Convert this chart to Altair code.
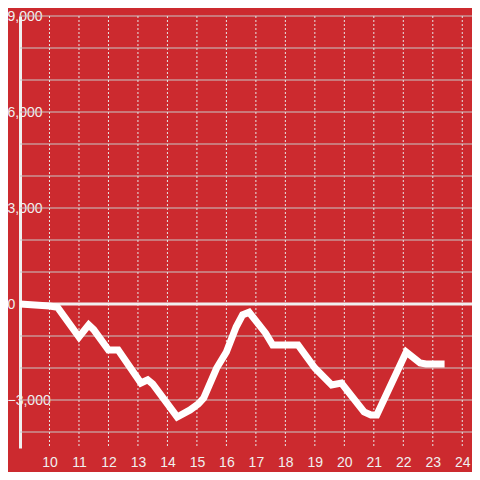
import altair as alt
import pandas as pd

# Data (hour of day, value)
hours = [9.0, 10.0, 10.27, 11.0, 11.33, 11.5, 12.0, 12.33, 13.1, 13.33, 13.5,
         14.33, 14.77, 15.05, 15.23, 15.67, 16.0, 16.33, 16.55, 16.77, 17.33,
         17.57, 18.43, 19.0, 19.57, 19.9, 20.67, 20.9, 21.1, 22.1, 22.57,
         22.77, 23.4]
values = [0, -60, -100, -1030, -650, -800, -1440, -1440, -2470, -2370, -2500,
          -3530, -3310, -3120, -2940, -2000, -1500, -720, -340, -260, -910,
          -1280, -1280, -2000, -2530, -2470, -3375, -3470, -3470, -1500, -1840,
          -1875, -1875]

x_ticks = list(range(10, 25))
y_labels = [-3000, 0, 3000, 6000, 9000]
y_grid = list(range(-4000, 10000, 1000))

BG = "#CC2A2F"
FONT = "Liberation Sans"

df = pd.DataFrame({"hour": hours, "value": values})

xscale = alt.Scale(domain=[9, 24.33], nice=False, zero=False)
yscale = alt.Scale(domain=[-4500, 9000], nice=False, zero=False)

hgrid = alt.Chart(pd.DataFrame({"g": y_grid})).mark_rule(
    color="#C8C8C8", strokeWidth=1
).encode(y=alt.Y("g:Q", scale=yscale, axis=None))

vgrid = alt.Chart(pd.DataFrame({"t": x_ticks})).mark_rule(
    color="#E6E6E6", strokeWidth=1, strokeDash=[2, 2]
).encode(x=alt.X("t:Q", scale=xscale, axis=None))

zero = alt.Chart(pd.DataFrame({"v": [0]})).mark_rule(
    color="#F0F0F0", strokeWidth=3
).encode(y=alt.Y("v:Q", scale=yscale, axis=None))

line = alt.Chart(df).mark_line(
    color="white", strokeWidth=7, strokeCap="butt", strokeJoin="miter", clip=True
).encode(
    x=alt.X("hour:Q", scale=xscale,
            axis=alt.Axis(values=x_ticks, title=None, domain=False, ticks=False,
                          grid=False, labelPadding=7, labelFontSize=14,
                          labelColor="#F0F0F0", labelFont=FONT,
                          labelFlush=False, labelOverlap=False)),
    y=alt.Y("value:Q", scale=yscale,
            axis=alt.Axis(values=y_labels, title=None, domain=True,
                          domainColor="#F0F0F0", domainWidth=3, ticks=False,
                          grid=False, labelAlign="left", labelBaseline="middle",
                          labelPadding=13, labelFontSize=14,
                          labelColor="#F0F0F0", labelFont=FONT,
                          labelFlush=False, labelOverlap=False)),
)

chart = alt.layer(hgrid, vgrid, zero, line).resolve_axis(
    x="independent", y="independent"
).properties(
    width=452, height=432,
    autosize=alt.AutoSizeParams(type="none"),
    padding={"left": 12, "top": 8, "right": 0, "bottom": 24},
    background=BG,
).configure_view(stroke=None)

chart.save("out.html", embed_options={"renderer": "svg", "actions": False})
